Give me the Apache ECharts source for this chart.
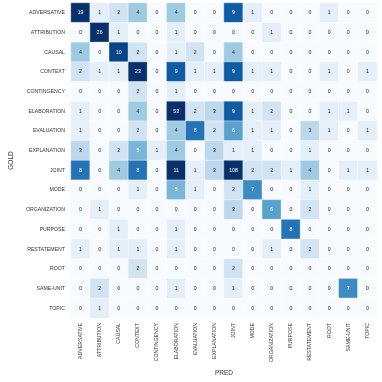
<!DOCTYPE html>
<html><head><meta charset="utf-8">
<script src="https://cdn.jsdelivr.net/npm/echarts@6/dist/echarts.min.js"></script>
<style>html,body{margin:0;padding:0;background:#fff}#c{width:382px;height:382px}</style>
</head><body><div id="c"></div>
<script>
const labels = ["ADVERSATIVE","ATTRIBUTION","CAUSAL","CONTEXT","CONTINGENCY","ELABORATION","EVALUATION","EXPLANATION","JOINT","MODE","ORGANIZATION","PURPOSE","RESTATEMENT","ROOT","SAME-UNIT","TOPIC"];
const rowAdversative  = [19,1,2,4,0,4,0,0,9,1,0,0,0,1,0,0];
const rowAttribution  = [0,26,1,0,0,1,0,0,0,0,1,0,0,0,0,0];
const rowCausal       = [4,0,10,2,0,1,2,0,4,0,0,0,0,0,0,0];
const rowContext      = [2,1,1,23,0,9,1,1,9,1,1,0,0,1,0,1];
const rowContingency  = [0,0,0,2,0,1,0,0,0,0,0,0,0,0,0,0];
const rowElaboration  = [1,0,0,4,0,53,2,3,9,1,2,0,0,1,1,0];
const rowEvaluation   = [1,0,0,2,0,4,8,2,6,1,1,0,3,1,0,1];
const rowExplanation  = [3,0,2,5,1,4,0,3,1,1,0,0,1,0,0,0];
const rowJoint        = [8,0,4,8,0,11,1,3,108,2,2,1,4,0,1,1];
const rowMode         = [0,0,0,1,0,5,1,0,2,7,0,0,1,0,0,0];
const rowOrganization = [0,1,0,0,0,0,0,0,3,0,6,0,2,0,0,0];
const rowPurpose      = [0,0,1,0,0,1,0,0,0,0,0,8,0,0,0,0];
const rowRestatement  = [1,0,1,1,0,1,0,0,0,0,1,0,2,0,0,0];
const rowRoot         = [0,0,0,2,0,0,0,0,2,0,0,0,0,0,0,0];
const rowSameUnit     = [0,2,0,0,0,1,0,0,1,0,0,0,0,0,7,0];
const rowTopic        = [0,1,0,0,0,0,0,0,0,0,0,0,0,0,0,0];
const matrix = [rowAdversative,rowAttribution,rowCausal,rowContext,rowContingency,rowElaboration,rowEvaluation,rowExplanation,rowJoint,rowMode,rowOrganization,rowPurpose,rowRestatement,rowRoot,rowSameUnit,rowTopic];

const data = [];
matrix.forEach((row, r) => row.forEach((v, c) => {
  data.push({value: [c, r, v], label: {color: v >= 5 ? '#ffffff' : '#262626'}});
}));

const chart = echarts.init(document.getElementById('c'));
chart.setOption({
  animation: false,
  grid: {left: 56, right: 5, top: 3, bottom: 56},
  xAxis: {
    type: 'category', data: labels, position: 'bottom',
    name: 'PRED', nameLocation: 'middle', nameGap: 49,
    nameTextStyle: {fontSize: 6.5, color: '#333', fontFamily: 'Liberation Sans'},
    axisLine: {show: false}, axisTick: {show: false}, splitLine: {show: false},
    axisLabel: {rotate: 90, fontSize: 5.2, color: '#333', margin: 5, interval: 0, fontFamily: 'Liberation Sans'}
  },
  yAxis: {
    type: 'category', data: labels, inverse: true,
    name: 'GOLD', nameLocation: 'middle', nameGap: 48, nameRotate: 90,
    nameTextStyle: {fontSize: 6.5, color: '#333', fontFamily: 'Liberation Sans'},
    axisLine: {show: false}, axisTick: {show: false}, splitLine: {show: false},
    axisLabel: {fontSize: 5.2, color: '#333', margin: 6, interval: 0, fontFamily: 'Liberation Sans'}
  },
  visualMap: {
    show: false, min: 0, max: 10.8, dimension: 2,
    inRange: {color: ['#f7fbff','#deebf7','#c6dbef','#9ecae1','#6baed6','#4292c6','#2171b5','#08519c','#08306b']}
  },
  series: [{
    type: 'heatmap', data: data,
    itemStyle: {borderColor: '#ffffff', borderWidth: 0.4},
    label: {show: true, fontSize: 5.2, fontFamily: 'Liberation Sans', formatter: p => p.value[2]}
  }]
});
</script></body></html>
